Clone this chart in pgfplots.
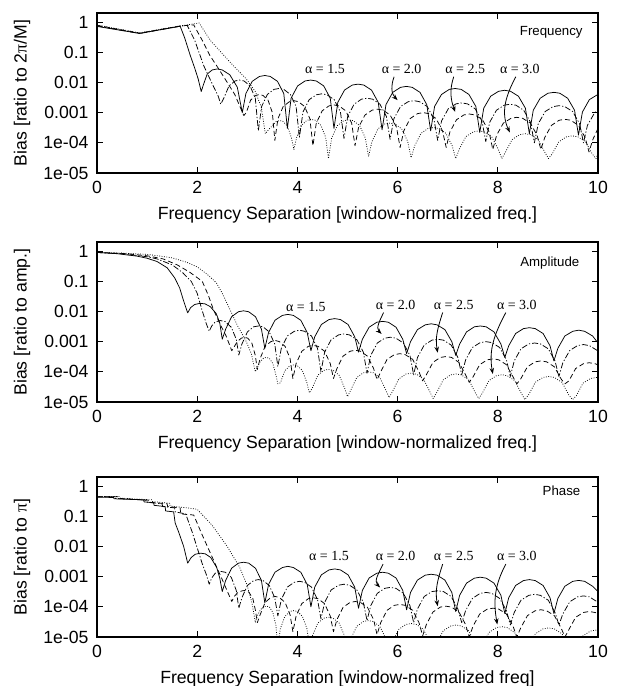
\documentclass[border=0pt]{standalone}
\usepackage{fontspec}
\setmainfont{Liberation Sans}
\newfontfamily\timesf{Liberation Serif}
\usepackage{pgfplots}
\pgfplotsset{compat=1.18}
\usetikzlibrary{arrows.meta}
\tikzset{
 sA/.style={black, line width=0.75pt, solid, line join=round},
 sB/.style={black, line width=0.75pt, dash pattern=on 6bp off 2bp on 1.2bp off 2bp, line join=round},
 sC/.style={black, line width=0.75pt, dash pattern=on 5bp off 3bp, line join=round},
 sD/.style={black, line width=0.75pt, dash pattern=on 0.8bp off 1.6bp, line join=round},
 alab/.style={font=\timesf\fontsize{14}{16}\selectfont, anchor=center, inner sep=0pt},
 plab/.style={font=\fontsize{13.3}{15}\selectfont, anchor=east, inner sep=0pt},
 aarr/.style={-{Stealth[length=6bp,width=4.5bp]}, line width=0.8pt, black},
}
\begin{document}
\begin{tikzpicture}
\useasboundingbox (0,0) rectangle (618bp,-686bp);
% ================= Frequency =================
\begin{axis}[at={(97bp,-173bp)}, anchor=south west,
   width=501bp, height=160bp, scale only axis,
   xmin=0, xmax=10, ymode=log, ymin=1e-5, ymax=2,
   xtick={0,2,4,6,8,10}, xticklabels={0,2,4,6,8,10},
   ytick={1e-5,1e-4,1e-3,1e-2,1e-1,1},
   yticklabels={1e-05,1e-04,0.001,0.01,0.1,1},
   yminorticks=false, xminorticks=false,
   tick align=inside, major tick length=6bp,
   axis line style={line width=1.2bp},
   major tick style={line width=0.9bp, black},
   tick label style={font=\fontsize{17.7}{20}\selectfont},
   label style={font=\fontsize{17.7}{20}\selectfont},
   xticklabel style={yshift=-4.5bp},
   yticklabel style={xshift=-5bp},
   xlabel style={at={(axis description cs:0.5,-0.2625)}, anchor=center},
   ylabel style={at={(axis description cs:-0.1497,0.5)}, anchor=center},
  xlabel={Frequency Separation [window-normalized freq.]},
  ylabel={Bias [ratio to 2{\timesf π}/M]}]
\addplot[sA] coordinates {
(0,0.72)(0.85,0.42)(1.66,0.73)(1.75,0.3)(1.86,0.08)(1.95,0.03)(2.02,0.013)(2.08,0.005)
(2.13,0.009)(2.2,0.019)(2.3,0.026)(2.4,0.028)(2.5,0.026)(2.65,0.018)(2.8,0.007)(2.9,0.001)
(2.972,0.0043)(3.098,0.0109)(3.242,0.0158)(3.35,0.017)(3.458,0.0158)(3.602,0.0109)(3.728,0.0043)(3.8,3e-4)
(3.874,0.003)(4.005,0.0077)(4.153,0.0112)(4.265,0.012)(4.377,0.0112)(4.525,0.0077)(4.656,0.003)(4.73,3e-4)
(4.807,0.0022)(4.941,0.0056)(5.095,0.0082)(5.21,0.0088)(5.325,0.0082)(5.479,0.0056)(5.613,0.0022)(5.69,2.7e-4)
(5.768,0.00185)(5.903,0.0047)(6.059,0.0069)(6.175,0.0074)(6.291,0.0069)(6.447,0.0047)(6.582,0.00185)(6.66,2.5e-4)
(6.738,0.0016)(6.876,0.004)(7.032,0.0059)(7.15,0.0063)(7.268,0.0059)(7.424,0.004)(7.562,0.0016)(7.64,2.2e-4)
(7.719,0.0014)(7.858,0.0035)(8.016,0.0051)(8.135,0.0055)(8.254,0.0051)(8.412,0.0035)(8.551,0.0014)(8.63,2e-4)
(8.708,0.0012)(8.846,0.003)(9.002,0.0044)(9.12,0.0047)(9.238,0.0044)(9.394,0.003)(9.532,0.0012)(9.61,1.8e-4)
(9.689,0.00105)(9.828,0.0027)(9.986,0.0039)(10,0.004)};
\addplot[sB] coordinates {
(0,0.75)(0.85,0.42)(1.66,0.73)(1.8,0.78)(1.95,0.25)(2.13,0.036)(2.3,0.009)(2.42,0.0035)(2.47,0.0019)
(2.53,0.003)(2.635,0.0077)(2.755,0.0112)(2.845,0.012)(2.935,0.0112)(3.055,0.0077)(3.16,0.003)(3.22,2.5e-4)
(3.286,0.0016)(3.4,0.004)(3.532,0.0059)(3.63,0.0063)(3.728,0.0059)(3.86,0.004)(3.974,0.0016)(4.04,1.5e-4)
(4.111,0.00105)(4.236,0.0027)(4.378,0.0039)(4.485,0.0042)(4.592,0.0039)(4.734,0.0027)(4.859,0.00105)(4.93,1.4e-4)
(5.004,7.5e-4)(5.132,0.0019)(5.28,0.0028)(5.39,0.003)(5.5,0.0028)(5.648,0.0019)(5.776,7.5e-4)(5.85,1.3e-4)
(5.926,6.3e-4)(6.059,0.0016)(6.211,0.0023)(6.325,0.0025)(6.439,0.0023)(6.591,0.0016)(6.724,6.3e-4)(6.8,1.2e-4)
(6.877,5.3e-4)(7.011,0.00134)(7.165,0.00195)(7.28,0.0021)(7.395,0.00195)(7.549,0.00134)(7.683,5.3e-4)(7.76,1.1e-4)
(7.838,4.8e-4)(7.973,0.0012)(8.129,0.00177)(8.245,0.0019)(8.361,0.00177)(8.517,0.0012)(8.652,4.8e-4)(8.73,1e-4)
(8.808,4.3e-4)(8.946,0.00109)(9.102,0.00158)(9.22,0.0017)(9.338,0.00158)(9.494,0.00109)(9.632,4.3e-4)(9.71,1e-4)
(9.789,3.8e-4)(9.928,9.6e-4)(10,0.00125)};
\addplot[sC] coordinates {
(0,0.78)(0.85,0.43)(1.66,0.74)(1.93,0.81)(2.1,0.25)(2.25,0.08)(2.43,0.028)(2.6,0.01)(2.75,0.004)(2.93,8e-4)
(2.98,0.001)(3.066,0.0026)(3.166,0.0037)(3.24,0.004)(3.314,0.0037)(3.414,0.0026)(3.5,0.001)(3.55,1.2e-4)
(3.611,6.3e-4)(3.717,0.0016)(3.839,0.0023)(3.93,0.0025)(4.021,0.0023)(4.143,0.0016)(4.249,6.3e-4)(4.31,8e-5)
(4.377,4.5e-4)(4.495,0.00115)(4.629,0.00167)(4.73,0.0018)(4.831,0.00167)(4.965,0.00115)(5.083,4.5e-4)(5.15,8e-5)
(5.222,3.3e-4)(5.348,8.3e-4)(5.492,0.00121)(5.6,0.0013)(5.708,0.00121)(5.852,8.3e-4)(5.978,3.3e-4)(6.05,7e-5)
(6.124,2.5e-4)(6.252,6.4e-4)(6.4,9.3e-4)(6.51,0.001)(6.62,9.3e-4)(6.768,6.4e-4)(6.896,2.5e-4)(6.97,7e-5)
(7.044,2.3e-4)(7.175,5.8e-4)(7.323,8.4e-4)(7.435,9e-4)(7.547,8.4e-4)(7.695,5.8e-4)(7.826,2.3e-4)(7.9,6e-5)
(7.977,1.8e-4)(8.111,4.5e-4)(8.265,6.5e-4)(8.38,7e-4)(8.495,6.5e-4)(8.649,4.5e-4)(8.783,1.8e-4)(8.86,6e-5)
(8.937,1.5e-4)(9.071,3.8e-4)(9.225,5.6e-4)(9.34,6e-4)(9.455,5.6e-4)(9.609,3.8e-4)(9.743,1.5e-4)(9.82,5e-5)
(9.898,1.3e-4)(10,3e-4)};
\addplot[sD] coordinates {
(0,0.8)(0.85,0.44)(1.66,0.75)(2.04,0.93)(2.26,0.25)(2.66,0.046)(2.98,0.013)(3.16,0.005)(3.28,0.0015)(3.36,2e-4)
(3.406,2.5e-4)(3.485,3.5e-4)(3.577,5.1e-4)(3.645,5.5e-4)(3.713,5.1e-4)(3.805,3.5e-4)(3.884,1.4e-4)(3.93,6e-5)
(3.985,1.5e-4)(4.082,3.8e-4)(4.192,5.6e-4)(4.275,6e-4)(4.358,5.6e-4)(4.468,3.8e-4)(4.565,1.5e-4)(4.62,3e-5)
(4.684,1.45e-4)(4.796,3.7e-4)(4.924,5.4e-4)(5.02,5.8e-4)(5.116,5.4e-4)(5.244,3.7e-4)(5.356,1.45e-4)(5.42,3.5e-5)
(5.488,1.1e-4)(5.607,2.9e-4)(5.743,4.2e-4)(5.845,4.5e-4)(5.947,4.2e-4)(6.083,2.9e-4)(6.202,1.1e-4)(6.27,3.2e-5)
(6.341,8e-5)(6.466,2.05e-4)(6.608,3e-4)(6.715,3.2e-4)(6.822,3e-4)(6.964,2.05e-4)(7.089,8e-5)(7.16,3e-5)
(7.234,6.3e-5)(7.362,1.6e-4)(7.51,2.3e-4)(7.62,2.5e-4)(7.73,2.3e-4)(7.878,1.6e-4)(8.006,6.3e-5)(8.08,3e-5)
(8.154,5e-5)(8.285,1.28e-4)(8.433,1.86e-4)(8.545,2e-4)(8.657,1.86e-4)(8.805,1.28e-4)(8.936,5e-5)(9.01,3e-5)
(9.086,4.3e-5)(9.219,1.09e-4)(9.371,1.58e-4)(9.485,1.7e-4)(9.599,1.58e-4)(9.751,1.09e-4)(9.884,4.3e-5)(9.96,3e-5)
(10,4.5e-5)};
\node[plab] at (axis description cs:0.9695,0.881) {Frequency};
\node[alab] at (axis cs:4.55,0.0278) {α = 1.5};
\node[alab] at (axis cs:6.08,0.0278) {α = 2.0};
\node[alab] at (axis cs:7.35,0.0278) {α = 2.5};
\node[alab] at (axis cs:8.44,0.0278) {α = 3.0};
\draw[aarr] (axis cs:5.93,0.0155) to[out=-110,in=135] (axis cs:6.0,0.0026);
\draw[aarr] (axis cs:7.12,0.0155) to[out=-108,in=110] (axis cs:7.15,0.00105);
\draw[aarr] (axis cs:8.36,0.0155) to[out=-118,in=115] (axis cs:8.24,2.2e-4);
\end{axis}
% ================= Amplitude =================
\begin{axis}[at={(97bp,-402bp)}, anchor=south west,
   width=501bp, height=160bp, scale only axis,
   xmin=0, xmax=10, ymode=log, ymin=1e-5, ymax=2,
   xtick={0,2,4,6,8,10}, xticklabels={0,2,4,6,8,10},
   ytick={1e-5,1e-4,1e-3,1e-2,1e-1,1},
   yticklabels={1e-05,1e-04,0.001,0.01,0.1,1},
   yminorticks=false, xminorticks=false,
   tick align=inside, major tick length=6bp,
   axis line style={line width=1.2bp},
   major tick style={line width=0.9bp, black},
   tick label style={font=\fontsize{17.7}{20}\selectfont},
   label style={font=\fontsize{17.7}{20}\selectfont},
   xticklabel style={yshift=-4.5bp},
   yticklabel style={xshift=-5bp},
   xlabel style={at={(axis description cs:0.5,-0.2625)}, anchor=center},
   ylabel style={at={(axis description cs:-0.1497,0.5)}, anchor=center},
  xlabel={Frequency Separation [window-normalized freq.]},
  ylabel={Bias [ratio to amp.]}]
\addplot[sA] coordinates {
(0,0.9)(0.4,0.82)(0.8,0.68)(1,0.58)(1.2,0.45)(1.4,0.28)(1.55,0.13)(1.65,0.06)(1.72,0.025)(1.77,0.014)(1.81,0.009)
(1.87,0.0135)(1.95,0.017)(2.05,0.0185)(2.15,0.018)(2.26,0.0145)(2.38,0.0085)(2.45,0.0042)(2.5,0.0012)
(2.568,0.0026)(2.687,0.0067)(2.823,0.0098)(2.925,0.0105)(3.027,0.0098)(3.163,0.0067)(3.282,0.0026)(3.35,6e-4)
(3.424,0.002)(3.552,0.0051)(3.7,0.0074)(3.81,0.008)(3.92,0.0074)(4.068,0.0051)(4.196,0.002)(4.27,5e-4)
(4.346,0.00145)(4.479,0.0037)(4.631,0.0054)(4.745,0.0058)(4.859,0.0054)(5.011,0.0037)(5.144,0.00145)(5.22,4.5e-4)
(5.297,0.0012)(5.431,0.003)(5.585,0.0044)(5.7,0.0047)(5.815,0.0044)(5.969,0.003)(6.103,0.0012)(6.18,4e-4)
(6.258,0.001)(6.396,0.0025)(6.552,0.0036)(6.67,0.0039)(6.788,0.0036)(6.944,0.0025)(7.082,0.001)(7.16,3.5e-4)
(7.238,8.3e-4)(7.376,0.0021)(7.532,0.0031)(7.65,0.0033)(7.768,0.0031)(7.924,0.0021)(8.062,8.3e-4)(8.14,3e-4)
(8.218,7.3e-4)(8.356,0.00186)(8.512,0.0027)(8.63,0.0029)(8.748,0.0027)(8.904,0.00186)(9.042,7.3e-4)(9.12,2.3e-4)
(9.199,6e-4)(9.338,0.00154)(9.496,0.0022)(9.615,0.0024)(9.734,0.0022)(9.892,0.00154)(10,9e-4)};
\addplot[sB] coordinates {
(0,0.9)(0.5,0.82)(1,0.65)(1.2,0.55)(1.5,0.35)(1.7,0.2)(1.88,0.1)(2,0.04)(2.09,0.012)(2.18,0.004)(2.24,0.0022)
(2.29,0.0033)(2.36,0.0045)(2.46,0.005)(2.56,0.0046)(2.68,0.003)(2.78,0.0012)(2.83,3.6e-4)
(2.892,8.3e-4)(3.002,0.0021)(3.126,0.0031)(3.22,0.0033)(3.314,0.0031)(3.438,0.0021)(3.548,8.3e-4)(3.61,1.5e-4)
(3.679,6e-4)(3.799,0.00154)(3.937,0.0022)(4.04,0.0024)(4.143,0.0022)(4.281,0.00154)(4.401,6e-4)(4.47,1e-4)
(4.544,4.5e-4)(4.672,0.00115)(4.82,0.00167)(4.93,0.0018)(5.04,0.00167)(5.188,0.00115)(5.316,4.5e-4)(5.39,9e-5)
(5.464,3.5e-4)(5.595,9e-4)(5.743,0.0013)(5.855,0.0014)(5.967,0.0013)(6.115,9e-4)(6.246,3.5e-4)(6.32,8e-5)
(6.397,3e-4)(6.531,7.7e-4)(6.685,0.00112)(6.8,0.0012)(6.915,0.00112)(7.069,7.7e-4)(7.203,3e-4)(7.28,8e-5)
(7.358,2.5e-4)(7.493,6.4e-4)(7.649,9.3e-4)(7.765,0.001)(7.881,9.3e-4)(8.037,6.4e-4)(8.172,2.5e-4)(8.25,7e-5)
(8.328,2.3e-4)(8.463,5.8e-4)(8.619,8.4e-4)(8.735,9e-4)(8.851,8.4e-4)(9.007,5.8e-4)(9.142,2.3e-4)(9.22,7e-5)
(9.298,2e-4)(9.436,5.1e-4)(9.592,7.4e-4)(9.71,8e-4)(9.828,7.4e-4)(9.984,5.1e-4)(10,4.8e-4)};
\addplot[sC] coordinates {
(0,0.9)(0.5,0.84)(1,0.7)(1.32,0.55)(1.6,0.35)(1.85,0.2)(2.1,0.1)(2.22,0.035)(2.32,0.012)(2.45,0.004)(2.58,0.0015)(2.69,5e-4)
(2.72,6e-4)(2.8,0.001)(2.88,0.0013)(2.945,0.0014)(3.01,0.0013)(3.09,9e-4)(3.16,3.5e-4)(3.2,1.2e-4)
(3.257,2.8e-4)(3.356,7e-4)(3.47,0.001)(3.555,0.0011)(3.64,0.001)(3.754,7e-4)(3.853,2.8e-4)(3.91,6e-5)
(3.975,1.9e-4)(4.088,4.8e-4)(4.218,7e-4)(4.315,7.5e-4)(4.412,7e-4)(4.542,4.8e-4)(4.655,1.9e-4)(4.72,6e-5)
(4.79,1.3e-4)(4.911,3.3e-4)(5.051,4.8e-4)(5.155,5.2e-4)(5.259,4.8e-4)(5.399,3.3e-4)(5.52,1.3e-4)(5.59,5.5e-5)
(5.663,1e-4)(5.79,2.6e-4)(5.936,3.7e-4)(6.045,4e-4)(6.154,3.7e-4)(6.3,2.6e-4)(6.427,1e-4)(6.5,5e-5)
(6.574,8e-5)(6.705,2.05e-4)(6.853,3e-4)(6.965,3.2e-4)(7.077,3e-4)(7.225,2.05e-4)(7.356,8e-5)(7.43,4.5e-5)
(7.506,6.8e-5)(7.639,1.73e-4)(7.791,2.5e-4)(7.905,2.7e-4)(8.019,2.5e-4)(8.171,1.73e-4)(8.304,6.8e-5)(8.38,4e-5)
(8.457,5.8e-5)(8.591,1.47e-4)(8.745,2.14e-4)(8.86,2.3e-4)(8.975,2.14e-4)(9.129,1.47e-4)(9.263,5.8e-5)(9.34,4e-5)
(9.418,5e-5)(9.553,1.28e-4)(9.709,1.86e-4)(9.825,2e-4)(9.941,1.86e-4)(10,1.7e-4)};
\addplot[sD] coordinates {
(0,0.9)(0.5,0.86)(1,0.78)(1.5,0.6)(1.8,0.42)(2,0.3)(2.2,0.17)(2.38,0.09)(2.5,0.04)(2.65,0.012)(2.8,0.0035)(2.98,0.001)(3.08,4e-4)(3.16,1e-4)
(3.2,1.4e-4)(3.26,2.2e-4)(3.33,2.9e-4)(3.385,3e-4)(3.44,2.8e-4)(3.51,1.9e-4)(3.574,7.5e-5)(3.61,4e-5)
(3.66,4.3e-5)(3.749,1.09e-4)(3.849,1.58e-4)(3.925,1.7e-4)(4.001,1.58e-4)(4.101,1.09e-4)(4.19,4.3e-5)(4.24,2e-5)
(4.301,3e-5)(4.407,7.7e-5)(4.529,1.12e-4)(4.62,1.2e-4)(4.711,1.12e-4)(4.833,7.7e-5)(4.939,3e-5)(5,1.5e-5)
(5.066,2.5e-5)(5.183,6.4e-5)(5.315,9.3e-5)(5.415,1e-4)(5.515,9.3e-5)(5.647,6.4e-5)(5.764,2.5e-5)(5.83,1.4e-5)
(5.9,2.25e-5)(6.024,5.8e-5)(6.164,8.4e-5)(6.27,9e-5)(6.376,8.4e-5)(6.516,5.8e-5)(6.64,2.25e-5)(6.71,1.3e-5)
(6.783,2.1e-5)(6.91,5.4e-5)(7.056,7.9e-5)(7.165,8.5e-5)(7.274,7.9e-5)(7.42,5.4e-5)(7.547,2.1e-5)(7.62,1.3e-5)
(7.694,2e-5)(7.822,5.1e-5)(7.97,7.4e-5)(8.08,8e-5)(8.19,7.4e-5)(8.338,5.1e-5)(8.466,2e-5)(8.54,1.2e-5)
(8.616,1.75e-5)(8.749,4.5e-5)(8.901,6.5e-5)(9.015,7e-5)(9.129,6.5e-5)(9.281,4.5e-5)(9.414,1.75e-5)(9.49,1.2e-5)
(9.566,1.6e-5)(9.699,4.2e-5)(9.851,6e-5)(9.965,6.5e-5)(10,6.4e-5)};
\node[plab] at (axis description cs:0.963,0.87) {Amplitude};
\node[alab] at (axis cs:4.17,0.0145) {α = 1.5};
\node[alab] at (axis cs:5.96,0.0167) {α = 2.0};
\node[alab] at (axis cs:7.12,0.0167) {α = 2.5};
\node[alab] at (axis cs:8.38,0.0167) {α = 3.0};
\draw[aarr] (axis cs:5.72,0.0092) to[out=-115,in=135] (axis cs:5.68,0.0018);
\draw[aarr] (axis cs:6.9,0.0092) to[out=-108,in=100] (axis cs:6.8,4.3e-4);
\draw[aarr] (axis cs:8.16,0.0092) to[out=-118,in=100] (axis cs:7.9,8.5e-5);
\end{axis}
% ================= Phase =================
\begin{axis}[at={(97bp,-637bp)}, anchor=south west,
   width=501bp, height=160bp, scale only axis,
   xmin=0, xmax=10, ymode=log, ymin=1e-5, ymax=2,
   xtick={0,2,4,6,8,10}, xticklabels={0,2,4,6,8,10},
   ytick={1e-5,1e-4,1e-3,1e-2,1e-1,1},
   yticklabels={1e-05,1e-04,0.001,0.01,0.1,1},
   yminorticks=false, xminorticks=false,
   tick align=inside, major tick length=6bp,
   axis line style={line width=1.2bp},
   major tick style={line width=0.9bp, black},
   tick label style={font=\fontsize{17.7}{20}\selectfont},
   label style={font=\fontsize{17.7}{20}\selectfont},
   xticklabel style={yshift=-4.5bp},
   yticklabel style={xshift=-5bp},
   xlabel style={at={(axis description cs:0.5,-0.2625)}, anchor=center},
   ylabel style={at={(axis description cs:-0.1497,0.5)}, anchor=center},
  xlabel={Frequency Separation [window-normalized freq]},
  ylabel={Bias [ratio to {\timesf π}]}]
\addplot[sA] coordinates {
(0,0.43)(0.33,0.42)(0.34,0.38)(0.93,0.35)(0.94,0.3)(1.13,0.28)(1.14,0.23)(1.36,0.21)(1.37,0.15)(1.53,0.14)(1.56,0.06)(1.63,0.03)(1.73,0.01)(1.81,0.0028)
(1.88,0.0043)(1.96,0.0055)(2.06,0.006)(2.16,0.0057)(2.27,0.0043)(2.39,0.002)(2.45,9e-4)(2.5,3.2e-4)
(2.568,7.5e-4)(2.687,0.0019)(2.823,0.0028)(2.925,0.003)(3.027,0.0028)(3.163,0.0019)(3.282,7.5e-4)(3.35,1.35e-4)
(3.424,5.5e-4)(3.552,0.0014)(3.7,0.002)(3.81,0.0022)(3.92,0.002)(4.068,0.0014)(4.196,5.5e-4)(4.27,1e-4)
(4.346,4.5e-4)(4.479,0.00115)(4.631,0.00167)(4.745,0.0018)(4.859,0.00167)(5.011,0.00115)(5.144,4.5e-4)(5.22,9e-5)
(5.297,3.5e-4)(5.431,9e-4)(5.585,0.0013)(5.7,0.0014)(5.815,0.0013)(5.969,9e-4)(6.103,3.5e-4)(6.18,8e-5)
(6.258,3e-4)(6.396,7.7e-4)(6.552,0.00112)(6.67,0.0012)(6.788,0.00112)(6.944,7.7e-4)(7.082,3e-4)(7.16,7e-5)
(7.238,2.4e-4)(7.376,6.1e-4)(7.532,8.9e-4)(7.65,9.6e-4)(7.768,8.9e-4)(7.924,6.1e-4)(8.062,2.4e-4)(8.14,6e-5)
(8.218,2e-4)(8.356,5.1e-4)(8.512,7.4e-4)(8.63,8e-4)(8.748,7.4e-4)(8.904,5.1e-4)(9.042,2e-4)(9.12,6e-5)
(9.199,1.9e-4)(9.338,4.8e-4)(9.496,7e-4)(9.615,7.5e-4)(9.734,7e-4)(9.892,4.8e-4)(10,3.2e-4)};
\addplot[sB] coordinates {
(0,0.44)(0.36,0.44)(0.37,0.39)(1,0.34)(1.01,0.29)(1.3,0.26)(1.31,0.21)(1.55,0.19)(1.56,0.14)(1.77,0.12)(1.9,0.03)(2,0.009)(2.1,0.0027)(2.18,0.0012)(2.24,5.6e-4)
(2.29,9e-4)(2.36,0.0013)(2.46,0.0015)(2.56,0.0014)(2.68,9.5e-4)(2.78,3.5e-4)(2.83,9e-5)
(2.892,2e-4)(3.002,5.1e-4)(3.126,7.4e-4)(3.22,8e-4)(3.314,7.4e-4)(3.438,5.1e-4)(3.548,2e-4)(3.61,5e-5)
(3.679,1.75e-4)(3.799,4.5e-4)(3.937,6.5e-4)(4.04,7e-4)(4.143,6.5e-4)(4.281,4.5e-4)(4.401,1.75e-4)(4.47,4e-5)
(4.544,1.4e-4)(4.672,3.6e-4)(4.82,5.2e-4)(4.93,5.6e-4)(5.04,5.2e-4)(5.188,3.6e-4)(5.316,1.4e-4)(5.39,3.5e-5)
(5.464,1.1e-4)(5.595,2.8e-4)(5.743,4.1e-4)(5.855,4.4e-4)(5.967,4.1e-4)(6.115,2.8e-4)(6.246,1.1e-4)(6.32,3e-5)
(6.397,8.5e-5)(6.531,2.2e-4)(6.685,3.2e-4)(6.8,3.4e-4)(6.915,3.2e-4)(7.069,2.2e-4)(7.203,8.5e-5)(7.28,3e-5)
(7.358,7.5e-5)(7.493,1.9e-4)(7.649,2.8e-4)(7.765,3e-4)(7.881,2.8e-4)(8.037,1.9e-4)(8.172,7.5e-5)(8.25,2.5e-5)
(8.328,6.5e-5)(8.463,1.66e-4)(8.619,2.4e-4)(8.735,2.6e-4)(8.851,2.4e-4)(9.007,1.66e-4)(9.142,6.5e-5)(9.22,2.5e-5)
(9.298,5.8e-5)(9.436,1.47e-4)(9.592,2.14e-4)(9.71,2.3e-4)(9.828,2.14e-4)(9.984,1.47e-4)(10,1.4e-4)};
\addplot[sC] coordinates {
(0,0.44)(0.42,0.44)(0.43,0.39)(1.05,0.34)(1.06,0.29)(1.4,0.26)(1.41,0.21)(1.66,0.19)(1.67,0.12)(1.93,0.11)(2.1,0.024)(2.3,0.0044)(2.5,8e-4)(2.69,1.5e-4)
(2.74,2.2e-4)(2.81,3e-4)(2.9,3.4e-4)(2.96,3.5e-4)(3.03,3.1e-4)(3.11,1.9e-4)(3.16,8e-5)(3.2,3e-5)
(3.257,5.5e-5)(3.356,1.4e-4)(3.47,2.05e-4)(3.555,2.2e-4)(3.64,2.05e-4)(3.754,1.4e-4)(3.853,5.5e-5)(3.91,1.5e-5)
(3.975,5e-5)(4.088,1.28e-4)(4.218,1.86e-4)(4.315,2e-4)(4.412,1.86e-4)(4.542,1.28e-4)(4.655,5e-5)(4.72,1.5e-5)
(4.79,3.8e-5)(4.911,9.6e-5)(5.051,1.4e-4)(5.155,1.5e-4)(5.259,1.4e-4)(5.399,9.6e-5)(5.52,3.8e-5)(5.59,1.2e-5)
(5.663,3e-5)(5.79,7.7e-5)(5.936,1.12e-4)(6.045,1.2e-4)(6.154,1.12e-4)(6.3,7.7e-5)(6.427,3e-5)(6.5,1.1e-5)
(6.574,2.6e-5)(6.705,6.7e-5)(6.853,9.8e-5)(6.965,1.05e-4)(7.077,9.8e-5)(7.225,6.7e-5)(7.356,2.6e-5)(7.43,1e-5)
(7.506,2.3e-5)(7.639,5.8e-5)(7.791,8.4e-5)(7.905,9e-5)(8.019,8.4e-5)(8.171,5.8e-5)(8.304,2.3e-5)(8.38,1e-5)
(8.457,2e-5)(8.591,5.1e-5)(8.745,7.4e-5)(8.86,8e-5)(8.975,7.4e-5)(9.129,5.1e-5)(9.263,2e-5)(9.34,1e-5)
(9.418,1.75e-5)(9.553,4.5e-5)(9.709,6.5e-5)(9.825,7e-5)(9.941,6.5e-5)(10,6e-5)};
\addplot[sD] coordinates {
(0,0.45)(0.45,0.45)(0.46,0.4)(1.1,0.35)(1.11,0.31)(1.45,0.27)(1.46,0.22)(1.8,0.19)(2,0.17)(2.3,0.05)(2.6,0.01)(2.85,0.002)(3,5e-4)(3.1,1.2e-4)(3.16,3e-5)
(3.2,5e-5)(3.26,8e-5)(3.33,1e-4)(3.385,1.05e-4)(3.44,1e-4)(3.51,6.5e-5)(3.57,2.5e-5)(3.61,5e-6)
(3.66,1.9e-5)(3.749,4.8e-5)(3.849,7e-5)(3.925,7.5e-5)(4.001,7e-5)(4.101,4.8e-5)(4.19,1.9e-5)(4.24,5e-6)
(4.301,1.1e-5)(4.407,2.9e-5)(4.529,4.2e-5)(4.62,4.5e-5)(4.711,4.2e-5)(4.833,2.9e-5)(4.939,1.1e-5)(5,4e-6)
(5.066,8.8e-6)(5.183,2.24e-5)(5.315,3.26e-5)(5.415,3.5e-5)(5.515,3.26e-5)(5.647,2.24e-5)(5.764,8.8e-6)(5.83,4e-6)
(5.9,7e-6)(6.024,1.8e-5)(6.164,2.6e-5)(6.27,2.8e-5)(6.376,2.6e-5)(6.516,1.8e-5)(6.64,7e-6)(6.71,3e-6)
(6.783,6.3e-6)(6.91,1.6e-5)(7.056,2.3e-5)(7.165,2.5e-5)(7.274,2.3e-5)(7.42,1.6e-5)(7.547,6.3e-6)(7.62,3e-6)
(7.694,5.5e-6)(7.822,1.4e-5)(7.97,2.05e-5)(8.08,2.2e-5)(8.19,2.05e-5)(8.338,1.4e-5)(8.466,5.5e-6)(8.54,3e-6)
(8.616,5e-6)(8.749,1.28e-5)(8.901,1.86e-5)(9.015,2e-5)(9.129,1.86e-5)(9.281,1.28e-5)(9.414,5e-6)(9.49,3e-6)
(9.566,4.3e-6)(9.699,1.09e-5)(9.851,1.58e-5)(9.965,1.7e-5)(10,1.69e-5)};
\node[plab] at (axis description cs:0.965,0.9125) {Phase};
\node[alab] at (axis cs:4.63,0.0047) {α = 1.5};
\node[alab] at (axis cs:5.96,0.0047) {α = 2.0};
\node[alab] at (axis cs:7.12,0.0047) {α = 2.5};
\node[alab] at (axis cs:8.38,0.0047) {α = 3.0};
\draw[aarr] (axis cs:5.71,0.0026) to[out=-115,in=135] (axis cs:5.65,4.4e-4);
\draw[aarr] (axis cs:6.9,0.0026) to[out=-108,in=100] (axis cs:6.8,1.05e-4);
\draw[aarr] (axis cs:8.16,0.0026) to[out=-118,in=100] (axis cs:7.99,2.6e-5);
\end{axis}
\end{tikzpicture}
\end{document}
